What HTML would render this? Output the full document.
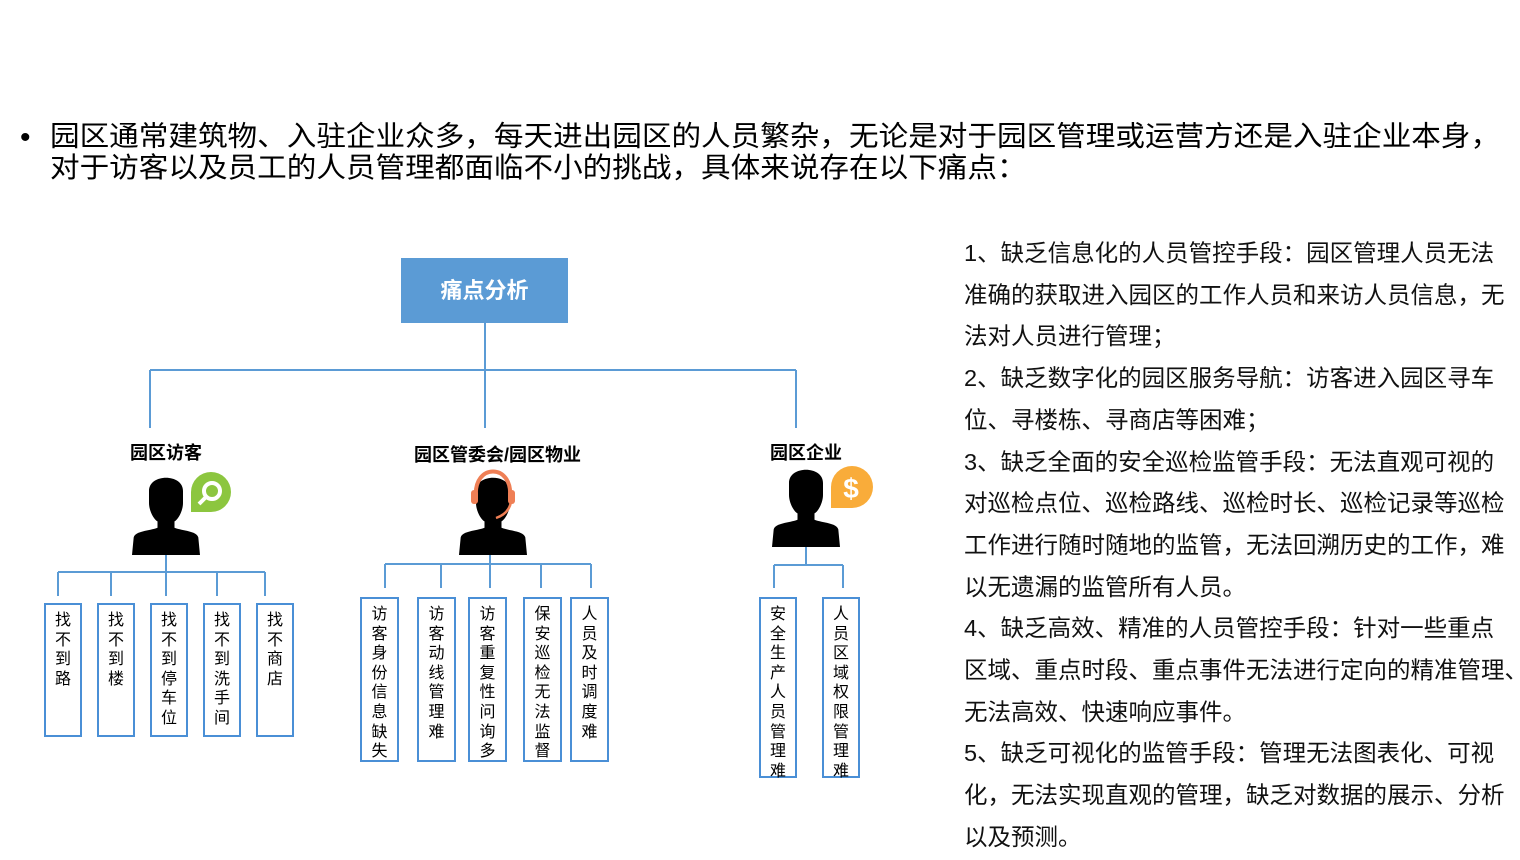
<!DOCTYPE html>
<html><head><meta charset="utf-8"><style>
body{margin:0;width:1520px;height:860px;background:#fff;position:relative;overflow:hidden;font-family:"Liberation Sans","Noto Sans CJK SC",sans-serif;color:#000}
.a{position:absolute}
.top{left:50px;top:121px;font-size:29.6px;line-height:33px;white-space:nowrap;transform:scaleY(0.95);transform-origin:top left}
.dot{left:20px;top:121px;font-size:30px;line-height:33px}
.rt{left:964px;top:233px;font-size:23.5px;line-height:41.7px;white-space:nowrap;color:#111}
.box{position:absolute;border:2px solid #4a8fd6;box-sizing:border-box;font-size:16px;line-height:19.6px;text-align:center;padding-top:6px;word-break:break-all}
.lab{position:absolute;font-weight:bold;font-size:18px;white-space:nowrap}
</style></head><body>
<div class="a dot">•</div>
<div class="a top">园区通常建筑物、入驻企业众多，每天进出园区的人员繁杂，无论是对于园区管理或运营方还是入驻企业本身，<br>对于访客以及员工的人员管理都面临不小的挑战，具体来说存在以下痛点：</div>

<div class="a rt">1、缺乏信息化的人员管控手段：园区管理人员无法<br>准确的获取进入园区的工作人员和来访人员信息，无<br>法对人员进行管理；<br>2、缺乏数字化的园区服务导航：访客进入园区寻车<br>位、寻楼栋、寻商店等困难；<br>3、缺乏全面的安全巡检监管手段：无法直观可视的<br>对巡检点位、巡检路线、巡检时长、巡检记录等巡检<br>工作进行随时随地的监管，无法回溯历史的工作，难<br>以无遗漏的监管所有人员。<br>4、缺乏高效、精准的人员管控手段：针对一些重点<br>区域、重点时段、重点事件无法进行定向的精准管理、<br>无法高效、快速响应事件。<br>5、缺乏可视化的监管手段：管理无法图表化、可视<br>化，无法实现直观的管理，缺乏对数据的展示、分析<br>以及预测。</div>

<div class="a" style="left:401px;top:258px;width:167px;height:65px;background:#5b9bd5;color:#fff;font-weight:bold;font-size:22px;line-height:65px;text-align:center">痛点分析</div>

<svg class="a" style="left:0;top:0" width="1520" height="860">
<defs>
<g id="p">
<path d="M-20,-50 C-20,-72 20,-72 20,-50 L20,-35 C20,-25 14,-14 10,-12 L10,-4 C20,0 36,0 38,8 L40,30 L-40,30 L-38,8 C-36,0 -20,0 -10,-4 L-10,-12 C-14,-14 -20,-25 -20,-35 Z" fill="#000"/>
</g>
</defs>
<g stroke="#5b9bd5" stroke-width="2" fill="none">
<path d="M485,323V370M150,370H796M150,370V428M485,370V428M796,370V428"/>
<path d="M166,545V596M58,572H265M58,572V596M111,572V596M217,572V596M265,572V596"/>
<path d="M490,545V588M385,564H591M385,564V588M441,564V588M541,564V588M591,564V588"/>
<path d="M806,540V565M774,565H843M774,565V588M843,565V588"/>
</g>
<use href="#p" transform="translate(166,531) scale(0.85,0.8)"/>
<use href="#p" transform="translate(493,531) scale(0.85,0.8)"/>
<use href="#p" transform="translate(806,523) scale(0.85,0.8)"/>
<path d="M211,472 a20,20 0 1 1 0,40 h-20 v-20 a20,20 0 0 1 20,-20z" fill="#8cc63f"/>
<circle cx="212" cy="491" r="8" fill="none" stroke="#fff" stroke-width="4"/>
<path d="M206,497 l-7,7" stroke="#fff" stroke-width="4"/>
<path d="M476,497 C473,463 513,463 510,497" stroke="#ef7f55" stroke-width="4" fill="none"/>
<rect x="471" y="490" width="7" height="14" rx="3" fill="#ef7f55"/>
<rect x="508" y="490" width="7" height="14" rx="3" fill="#ef7f55"/>
<path d="M511,502 C509,512 502,516 496,518" stroke="#ef7f55" stroke-width="2.5" fill="none"/>
<path d="M852,466 a20,20 0 1 1 0,42 h-21 v-21 a21,21 0 0 1 21,-21z" fill="#f9ac3a"/>
<text x="851" y="498" font-size="28" font-weight="bold" fill="#fff" text-anchor="middle" font-family="Liberation Sans,sans-serif">$</text>
</svg>

<div class="lab" style="left:130px;top:439px">园区访客</div>
<div class="lab" style="left:414px;top:441px">园区管委会/园区物业</div>
<div class="lab" style="left:770px;top:439px">园区企业</div>

<div class="box" style="left:44px;top:603px;width:38px;height:134px">找<br>不<br>到<br>路</div>
<div class="box" style="left:97px;top:603px;width:38px;height:134px">找<br>不<br>到<br>楼</div>
<div class="box" style="left:150px;top:603px;width:38px;height:134px">找<br>不<br>到<br>停<br>车<br>位</div>
<div class="box" style="left:203px;top:603px;width:38px;height:134px">找<br>不<br>到<br>洗<br>手<br>间</div>
<div class="box" style="left:256px;top:603px;width:38px;height:134px">找<br>不<br>商<br>店</div>

<div class="box" style="left:360px;top:597px;width:39px;height:165px">访<br>客<br>身<br>份<br>信<br>息<br>缺<br>失</div>
<div class="box" style="left:417px;top:597px;width:39px;height:165px">访<br>客<br>动<br>线<br>管<br>理<br>难</div>
<div class="box" style="left:468px;top:597px;width:39px;height:165px">访<br>客<br>重<br>复<br>性<br>问<br>询<br>多</div>
<div class="box" style="left:523px;top:597px;width:39px;height:165px">保<br>安<br>巡<br>检<br>无<br>法<br>监<br>督</div>
<div class="box" style="left:570px;top:597px;width:39px;height:165px">人<br>员<br>及<br>时<br>调<br>度<br>难</div>

<div class="box" style="left:759px;top:597px;width:38px;height:181px">安<br>全<br>生<br>产<br>人<br>员<br>管<br>理<br>难</div>
<div class="box" style="left:822px;top:597px;width:38px;height:181px">人<br>员<br>区<br>域<br>权<br>限<br>管<br>理<br>难</div>
</body></html>
